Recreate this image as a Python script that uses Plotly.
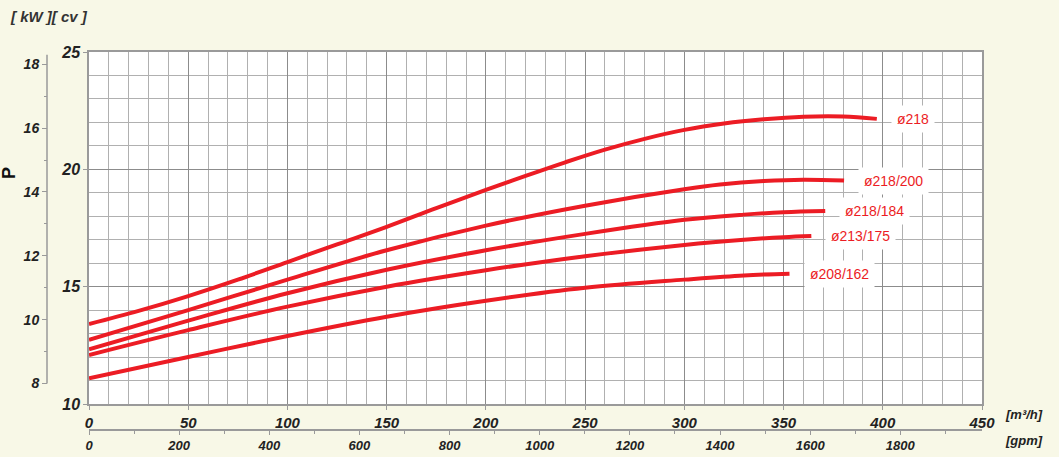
import plotly.graph_objects as go

# ---------------- data (flow in m3/h, power in cv) ----------------
names = ["ø218", "ø218/200", "ø218/184", "ø213/175", "ø208/162"]

x_218 = [0, 25, 50, 75, 100, 125, 150, 175, 200, 220, 240, 260, 280, 300, 320, 340, 360, 380, 397]
y_218 = [13.41, 13.97, 14.6, 15.3, 16.05, 16.8, 17.55, 18.35, 19.12, 19.72, 20.3, 20.84, 21.3, 21.68, 21.95, 22.13, 22.24, 22.25, 22.15]

x_218_200 = [0, 50, 100, 150, 200, 250, 300, 318, 340, 360, 380.5]
y_218_200 = [12.73, 14.0, 15.3, 16.55, 17.6, 18.45, 19.15, 19.35, 19.5, 19.56, 19.52]

x_218_184 = [0, 50, 100, 150, 200, 250, 300, 330, 350, 371]
y_218_184 = [12.33, 13.55, 14.72, 15.72, 16.55, 17.25, 17.85, 18.07, 18.17, 18.22]

x_213_175 = [0, 50, 100, 150, 200, 250, 300, 330, 350, 364]
y_213_175 = [12.09, 13.15, 14.15, 15.0, 15.7, 16.3, 16.78, 17.0, 17.11, 17.16]

x_208_162 = [0, 50, 100, 150, 200, 250, 300, 330, 353]
y_208_162 = [11.1, 12.0, 12.9, 13.72, 14.4, 14.95, 15.3, 15.48, 15.55]

x_ticks_m3h = [0, 50, 100, 150, 200, 250, 300, 350, 400, 450]
x_ticks_gpm = [0, 200, 400, 600, 800, 1000, 1200, 1400, 1600, 1800]
y_ticks_cv = [10, 15, 20, 25]
y_ticks_kw = [8, 10, 12, 14, 16, 18]

CV_TO_KW = 0.7355
M3H_TO_GPM = 4.40287
X_MAX = 450
CV_MIN, CV_MAX = 10, 25

series = [(x_218, y_218), (x_218_200, y_218_200), (x_218_184, y_218_184),
          (x_213_175, y_213_175), (x_208_162, y_208_162)]

# ---------------- styling ----------------
W, H = 1059, 457
RED = "#ec1c24"
BG = "#f8f8e7"
FONT = "Liberation Sans, Arial, sans-serif"
TXT = "#222222"
x_dom = [89 / W, 982 / W]
y_dom = [1 - 404 / H, 1 - 52 / H]

fig = go.Figure()
for name, (xs, ys) in zip(names, series):
    fig.add_trace(go.Scatter(x=xs, y=ys, mode="lines", name=name,
                             line=dict(color=RED, width=4, shape="spline", smoothing=1.0),
                             showlegend=False, hoverinfo="skip"))
    fig.add_annotation(x=xs[-1], y=ys[-1], xref="x", yref="y", text=name,
                       showarrow=False, xanchor="left", yanchor="middle", xshift=14,
                       bgcolor="white", borderpad=5,
                       font=dict(family=FONT, size=14, color=RED))

fig.update_layout(
    width=W, height=H,
    margin=dict(l=0, r=0, t=0, b=0, autoexpand=False),
    paper_bgcolor=BG,
    plot_bgcolor="white",
    xaxis=dict(domain=x_dom, range=[0, X_MAX], tickvals=x_ticks_m3h, automargin=False,
               showgrid=True, gridcolor="#8c8c8c", gridwidth=1.4,
               minor=dict(dtick=10, showgrid=True, gridcolor="#b0b0b0", gridwidth=1,
                          ticks=""),
               showline=True, linecolor="#9a9a9a", linewidth=1.5, mirror=True,
               ticks="outside", ticklen=4, tickcolor="#9a9a9a", zeroline=False,
               tickfont=dict(family=FONT, size=15, color=TXT, weight="bold", style="italic")),
    yaxis=dict(domain=y_dom, range=[CV_MIN, CV_MAX], tickvals=y_ticks_cv, automargin=False,
               showgrid=True, gridcolor="#8c8c8c", gridwidth=1.4,
               minor=dict(dtick=1, showgrid=True, gridcolor="#b0b0b0", gridwidth=1,
                          ticks=""),
               showline=True, linecolor="#9a9a9a", linewidth=1.5, mirror=True,
               ticks="outside", ticklen=4, tickcolor="#9a9a9a", zeroline=False,
               tickfont=dict(family=FONT, size=16, color=TXT, weight="bold", style="italic")),
    xaxis2=dict(overlaying="x", anchor="free", position=1 - 430 / H, side="bottom",
                range=[0, X_MAX * M3H_TO_GPM], tickvals=x_ticks_gpm, automargin=False,
                showgrid=False, zeroline=False,
                showline=True, linecolor="#9a9a9a", linewidth=1.5,
                ticks="outside", ticklen=4, tickcolor="#9a9a9a",
                minor=dict(dtick=100, ticks="outside", ticklen=3, tickcolor="#9a9a9a"),
                tickfont=dict(family=FONT, size=13, color=TXT, weight="bold", style="italic")),
    yaxis2=dict(overlaying="y", anchor="free", position=47 / W, side="left",
                range=[CV_MIN * CV_TO_KW, CV_MAX * CV_TO_KW], tickvals=y_ticks_kw,
                automargin=False,
                showgrid=False, zeroline=False, showline=False,
                ticks="outside", ticklen=5, tickcolor="#9a9a9a",
                minor=dict(dtick=1, ticks="outside", ticklen=3, tickcolor="#9a9a9a"),
                tickfont=dict(family=FONT, size=14, color=TXT, weight="bold", style="italic")),
)

# invisible traces so the secondary axes render
fig.add_trace(go.Scatter(x=[0], y=[None], xaxis="x2", yaxis="y", showlegend=False,
                         hoverinfo="skip", mode="markers", marker=dict(opacity=0)))
fig.add_trace(go.Scatter(x=[None], y=[8], xaxis="x", yaxis="y2", showlegend=False,
                         hoverinfo="skip", mode="markers", marker=dict(opacity=0)))

# kW axis line
fig.add_shape(type="line", xref="paper", yref="y2", x0=47 / W, x1=47 / W,
              y0=y_ticks_kw[0], y1=18.3, line=dict(color="#9a9a9a", width=1.5))

ann_font = dict(family=FONT, size=15, color="#333333", weight="bold", style="italic")
fig.add_annotation(xref="paper", yref="paper", x=8 / W, y=1 - 17 / H, text="[ kW ][ cv ]",
                   showarrow=False, xanchor="left", yanchor="middle", font=ann_font)
fig.add_annotation(xref="paper", yref="paper", x=1003 / W, y=1 - 414 / H, text="[m³/h]",
                   showarrow=False, xanchor="left", yanchor="middle",
                   font=dict(family=FONT, size=13, color=TXT, weight="bold", style="italic"))
fig.add_annotation(xref="paper", yref="paper", x=1003 / W, y=1 - 440 / H, text="[gpm]",
                   showarrow=False, xanchor="left", yanchor="middle",
                   font=dict(family=FONT, size=13, color=TXT, weight="bold", style="italic"))
fig.add_annotation(xref="paper", yref="paper", x=9 / W, y=1 - 173 / H, text="P",
                   showarrow=False, xanchor="center", yanchor="middle", textangle=-90,
                   font=dict(family=FONT, size=18, color="#111111", weight="bold"))

fig.write_html("out.html",
               config={"displayModeBar": False},
               post_script="document.body.style.margin='0';"
                           "document.body.style.background='" + BG + "';")
